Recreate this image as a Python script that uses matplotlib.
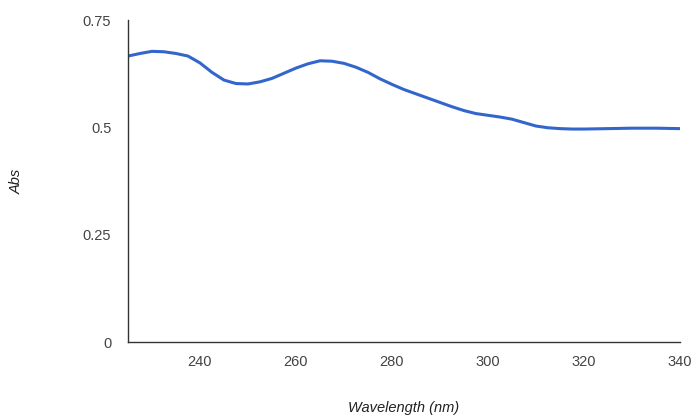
import matplotlib
matplotlib.use("Agg")
import matplotlib.pyplot as plt

wavelength = [225, 227.5, 230, 232.5, 235, 237.5, 240, 242.5, 245, 247.5,
              250, 252.5, 255, 257.5, 260, 262.5, 265, 267.5, 270, 272.5,
              275, 277.5, 280, 282.5, 285, 287.5, 290, 292.5, 295, 297.5,
              300, 302.5, 305, 307.5, 310, 312.5, 315, 317.5, 320, 325,
              330, 335, 340]
absorbance = [0.666, 0.672, 0.677, 0.676, 0.672, 0.666, 0.650, 0.628, 0.610, 0.602,
              0.601, 0.606, 0.614, 0.626, 0.638, 0.648, 0.655, 0.654, 0.649, 0.640,
              0.628, 0.613, 0.600, 0.588, 0.578, 0.568, 0.558, 0.548, 0.539, 0.532,
              0.528, 0.524, 0.519, 0.511, 0.503, 0.499, 0.497, 0.496, 0.496, 0.497,
              0.498, 0.498, 0.497]
x_ticks = [240, 260, 280, 300, 320, 340]
y_ticks = [0, 0.25, 0.5, 0.75]
y_tick_labels = ["0", "0.25", "0.5", "0.75"]

plt.rcParams['font.family'] = ['Liberation Sans', 'DejaVu Sans']

fig = plt.figure(figsize=(6.99, 4.2), dpi=100)
ax = fig.add_axes([128 / 699, 78 / 420, 552 / 699, 322 / 420])

ax.plot(wavelength, absorbance, color='#3366CC', linewidth=2.2,
        solid_capstyle='round', solid_joinstyle='round')

ax.set_xlim(225, 340)
ax.set_ylim(0, 0.75)
ax.set_xticks(x_ticks)
ax.set_yticks(y_ticks)
ax.set_yticklabels(y_tick_labels)

for side in ('top', 'right'):
    ax.spines[side].set_visible(False)
for side in ('left', 'bottom'):
    ax.spines[side].set_color('#333333')
    ax.spines[side].set_linewidth(1.0)

ax.tick_params(axis='both', length=0, labelsize=10.5, labelcolor='#444444')
ax.tick_params(axis='x', pad=9)
ax.tick_params(axis='y', pad=12)

# Axis titles placed in figure pixels
fig.text(404 / 699, 1 - 408 / 420, 'Wavelength (nm)', fontsize=10.5, style='italic',
         color='#222222', ha='center', va='center')
fig.text(17 / 699, 1 - 181 / 420, 'Abs', fontsize=10.5, style='italic',
         color='#222222', ha='center', va='center', rotation=90)

fig.savefig('out.png', dpi=100, facecolor='white')
